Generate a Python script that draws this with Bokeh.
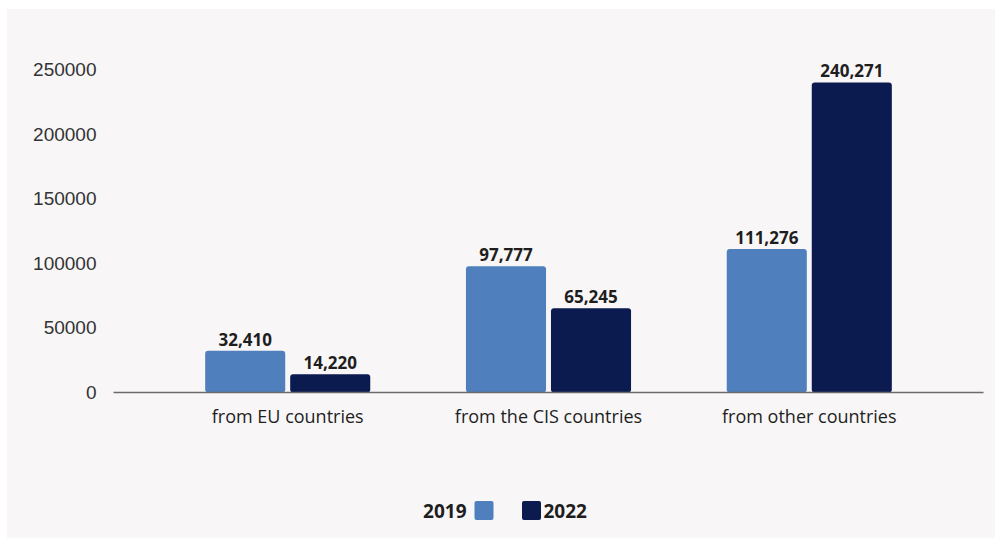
from bokeh.plotting import figure
from bokeh.models import ColumnDataSource, Range1d, FactorRange, NumeralTickFormatter, FixedTicker
from bokeh.transform import dodge
from bokeh.layouts import column
from bokeh.core.properties import value
from bokeh.embed import file_html
from bokeh.resources import INLINE

categories = ["from EU countries", "from the CIS countries", "from other countries"]
years = ["2019", "2022"]
values_2019 = [32410, 97777, 111276]
values_2022 = [14220, 65245, 240271]
y_ticks = [0, 50000, 100000, 150000, 200000, 250000]

BG = "#f8f6f7"
C19 = "#4f80bd"
C22 = "#0c1b4f"
TXT = "#1e1e1e"

src = ColumnDataSource(dict(
    cat=categories,
    v19=values_2019,
    v22=values_2022,
    l19=[f"{v:,}" for v in values_2019],
    l22=[f"{v:,}" for v in values_2022],
))

p = figure(
    x_range=FactorRange(factors=categories, range_padding=0.112),
    y_range=Range1d(0, 265000),
    width=988, height=460,
    output_backend="svg", toolbar_location=None,
    background_fill_color=BG, border_fill_color=BG,
    outline_line_color=None,
    min_border_left=106, min_border_right=12,
    min_border_top=41, min_border_bottom=77,
)

off, w = 0.163, 0.307
p.vbar(x=dodge("cat", -off, range=p.x_range), top="v19", width=w, source=src,
       fill_color=C19, line_color=None, border_radius=3)
p.vbar(x=dodge("cat", off, range=p.x_range), top="v22", width=w, source=src,
       fill_color=C22, line_color=None, border_radius=3)

lbl = dict(text_font=value("Open Sans"), text_font_style="bold", text_font_size="17px",
           text_color=TXT, text_align="center", text_baseline="bottom", y_offset=-5)
p.text(x=dodge("cat", -off, range=p.x_range), y="v19", text="l19", source=src, **lbl)
p.text(x=dodge("cat", off, range=p.x_range), y="v22", text="l22", source=src, **lbl)

p.xgrid.grid_line_color = None
p.ygrid.grid_line_color = None

p.yaxis.ticker = FixedTicker(ticks=y_ticks)
p.yaxis.formatter = NumeralTickFormatter(format="0")
p.yaxis.axis_line_color = None
p.yaxis.major_tick_line_color = None
p.yaxis.minor_tick_line_color = None
p.yaxis.major_label_text_font = "Liberation Sans"
p.yaxis.major_label_text_font_size = "19px"
p.yaxis.major_label_text_color = "#333333"
p.yaxis.major_label_standoff = 11

p.xaxis.axis_line_color = "#6b6b6b"
p.xaxis.axis_line_width = 1.5
p.xaxis.major_tick_line_color = None
p.xaxis.minor_tick_line_color = None
p.xaxis.major_label_text_font = "Open Sans"
p.xaxis.major_label_text_font_size = "18px"
p.xaxis.major_label_text_color = TXT
p.xaxis.major_label_standoff = 5

# legend strip (frame is aligned with the main frame: page x 113..983)
leg = figure(
    width=988, height=69,
    x_range=Range1d(113, 983), y_range=Range1d(0, 69),
    output_backend="svg", toolbar_location=None,
    background_fill_color=BG, border_fill_color=BG,
    outline_line_color=None, min_border=0,
    x_axis_location=None, y_axis_location=None,
)
leg.xgrid.grid_line_color = None
leg.ygrid.grid_line_color = None
leg_src = ColumnDataSource(dict(
    sx=[483.5, 531], sy=[28, 28], col=[C19, C22],
    tx=[466, 543], lab=years, al=["right", "left"],
))
leg.rect(x="sx", y="sy", width=19, height=19, fill_color="col", line_color=None,
         border_radius=2, source=leg_src)
leg.text(x="tx", y="sy", text="lab", text_align="al", text_baseline="middle",
         text_font=value("Open Sans"), text_font_style="bold", text_font_size="19px",
         text_color=TXT, source=leg_src)

layout = column(p, leg, margin=(9, 0, 0, 7), spacing=0,
                styles={"background-color": BG})

open("out.html", "w").write(file_html(layout, INLINE))
